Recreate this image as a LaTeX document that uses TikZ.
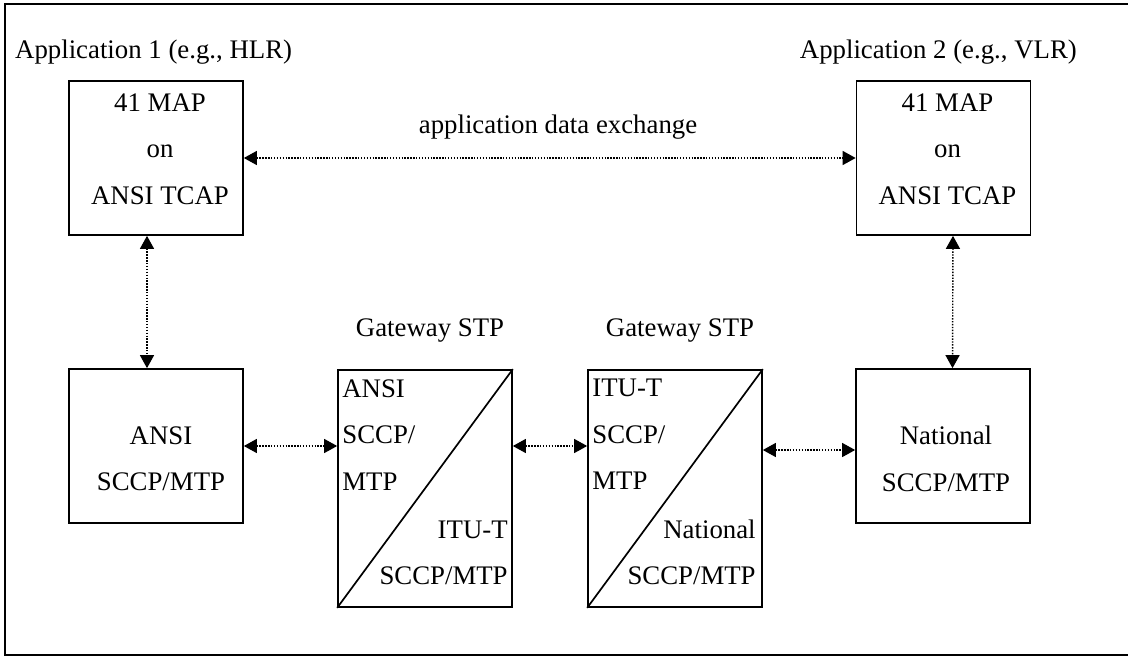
\documentclass[tikz,border=0pt]{standalone}
\usepackage{fontspec}
\setmainfont{Liberation Serif}
\usetikzlibrary{arrows.meta,positioning}
\tikzstyle{stack}=[draw,line width=1.7pt,minimum width=174pt,minimum height=154pt,inner sep=0pt]
\tikzstyle{gateway}=[stack,minimum height=237pt]
\tikzstyle{stack text}=[align=center,inner sep=0pt,font=\fontsize{26.8}{46.5}\selectfont]
\tikzstyle{corner text}=[stack text,align=left]
\tikzstyle{right text}=[stack text,align=right]
\tikzstyle{caption}=[inner sep=0pt,font=\fontsize{26.8}{32}\selectfont]
\tikzstyle{link}=[draw,line width=1.4pt,dash pattern=on 1.4pt off 1.5pt,{Triangle[length=13pt,width=14pt]}-{Triangle[length=13pt,width=14pt]}]

\begin{document}
\begin{tikzpicture}[x=1pt,y=-1pt]
    \useasboundingbox (0,0) rectangle (1128,656);
    \draw[line width=2.7pt] (5,4) rectangle (1140,655);

    % First we draw the boxes
    \foreach \pos/\name in {{(156,158)/map1}, {(943.5,158)/map2}, {(156,446)/sccp1}, {(943,446)/natl}}
        \node[stack] (\name) at \pos {};
    \foreach \pos/\name in {{(425,488.5)/gw1}, {(675,488.5)/gw2}}
        \node[gateway] (\name) at \pos {};
    \foreach \name in {gw1, gw2}
        \draw[line width=1.7pt] (\name.south west) -- (\name.north east);

    % Texts of the boxes
    \node[stack text] (map1 text) at ([xshift=4pt,yshift=9pt]map1) {41 MAP\\on\\ANSI TCAP};
    \node[stack text] (map2 text) at ([xshift=4pt,yshift=9pt]map2) {41 MAP\\on\\ANSI TCAP};
    \node[stack text] (sccp1 text) at ([xshift=5pt,yshift=-13pt]sccp1) {ANSI\\SCCP/MTP};
    \node[stack text] (natl text) at ([xshift=3pt,yshift=-13pt]natl) {National\\SCCP/MTP};
    \node[corner text, below right=10pt and 5pt of gw1.north west] (gw1 top) {ANSI\\SCCP/\\MTP};
    \node[right text, above left=22.5pt and 5pt of gw1.south east] (gw1 bottom) {ITU-T\\SCCP/MTP};
    \node[corner text, below right=10pt and 5pt of gw2.north west] (gw2 top) {ITU-T\\SCCP/\\MTP};
    \node[right text, above left=22.5pt and 7pt of gw2.south east] (gw2 bottom) {National\\SCCP/MTP};

    % Captions
    \node[caption, anchor=base west] (app1) at (15,58) {Application 1 (e.g., HLR)};
    \node[caption, anchor=base east] (app2) at (1077,58) {Application 2 (e.g., VLR)};
    \node[caption, anchor=base] (exchange) at (558,133) {application data exchange};
    \node[caption, above=27pt of gw1, xshift=5pt] (stp1) {Gateway STP};
    \node[caption, above=27pt of gw2, xshift=5pt] (stp2) {Gateway STP};

    % Connect boxes with arrows
    \path[link] (map1.east) -- (map2.west);
    \path[link] ([xshift=-9pt]map1.south) -- ([xshift=-9pt]sccp1.north);
    \path[link] ([xshift=9.5pt]map2.south) -- ([xshift=9.5pt]natl.north);
    \path[link] (sccp1.east) -- (sccp1.east -| gw1.west);
    \path[link] (sccp1.east -| gw1.east) -- (sccp1.east -| gw2.west);
    \path[link] ([yshift=-4pt]natl.west -| gw2.east) -- ([yshift=-4pt]natl.west);
\end{tikzpicture}
\end{document}
